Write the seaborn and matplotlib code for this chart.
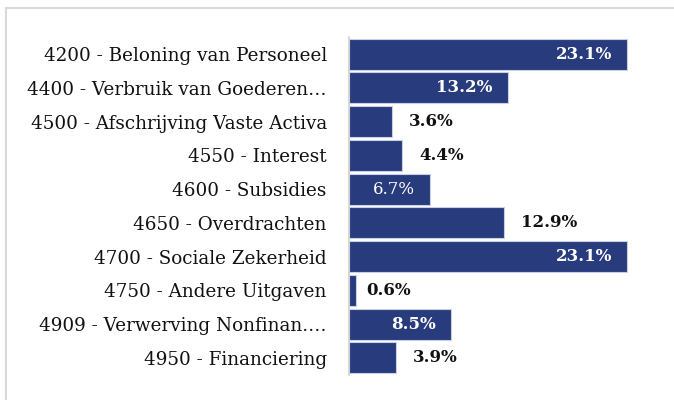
import matplotlib
matplotlib.use("Agg")
import matplotlib.pyplot as plt
from matplotlib.lines import Line2D
import seaborn as sns
import pandas as pd

categories = [
    "4200 - Beloning van Personeel",
    "4400 - Verbruik van Goederen…",
    "4500 - Afschrijving Vaste Activa",
    "4550 - Interest",
    "4600 - Subsidies",
    "4650 - Overdrachten",
    "4700 - Sociale Zekerheid",
    "4750 - Andere Uitgaven",
    "4909 - Verwerving Nonfinan.…",
    "4950 - Financiering",
]
values = [23.1, 13.2, 3.6, 4.4, 6.7, 12.9, 23.1, 0.6, 8.5, 3.9]
inside = [True, True, False, False, True, False, True, False, True, False]
bold = [True, True, True, True, False, True, True, True, True, True]

sns.set_theme(style="white")
plt.rcParams["font.family"] = ["DejaVu Serif", "Liberation Serif"]

df = pd.DataFrame({"cat": categories, "val": values})
bar_color = "#283B7D"

fig = plt.figure(figsize=(6.74, 4.0), dpi=100)
ax = fig.add_axes([349 / 674, 1 - 374.8 / 400, (640 - 349) / 674, (374.8 - 37.2) / 400])
sns.barplot(data=df, y="cat", x="val", orient="h", color=bar_color,
            saturation=1, width=0.92, edgecolor="#C9D0E3", linewidth=0.8, ax=ax)

ax.set_xlim(0, (640 - 349) / 12.03)
ax.set_ylim(9.5, -0.5)
ax.set_xlabel("")
ax.set_ylabel("")
ax.set_xticks([])
ax.tick_params(axis="y", length=0, pad=16, labelsize=13.2, labelcolor="#111111")
for s in ["top", "right", "bottom"]:
    ax.spines[s].set_visible(False)
ax.spines["left"].set_color("#D0D0D0")
ax.spines["left"].set_linewidth(1.2)

px = 1 / 12.03
for i, (v, ins, b) in enumerate(zip(values, inside, bold)):
    label = f"{v:.1f}%"
    if ins:
        ax.text(v - 15 * px, i, label, ha="right", va="center", color="white",
                fontsize=12, fontweight="bold" if b else "normal")
    else:
        off = 10 if v < 1 else 17
        ax.text(v + off * px, i, label, ha="left", va="center", color="#111111",
                fontsize=12, fontweight="bold" if b else "normal")

# outer frame (top and left edges visible)
fig.add_artist(Line2D([6 / 674, 6 / 674], [0, 1 - 8 / 400], transform=fig.transFigure,
                      color="#D9D9D9", linewidth=1.5))
fig.add_artist(Line2D([6 / 674, 1], [1 - 8 / 400, 1 - 8 / 400], transform=fig.transFigure,
                      color="#D9D9D9", linewidth=1.5))

fig.savefig("out.png", dpi=100)
